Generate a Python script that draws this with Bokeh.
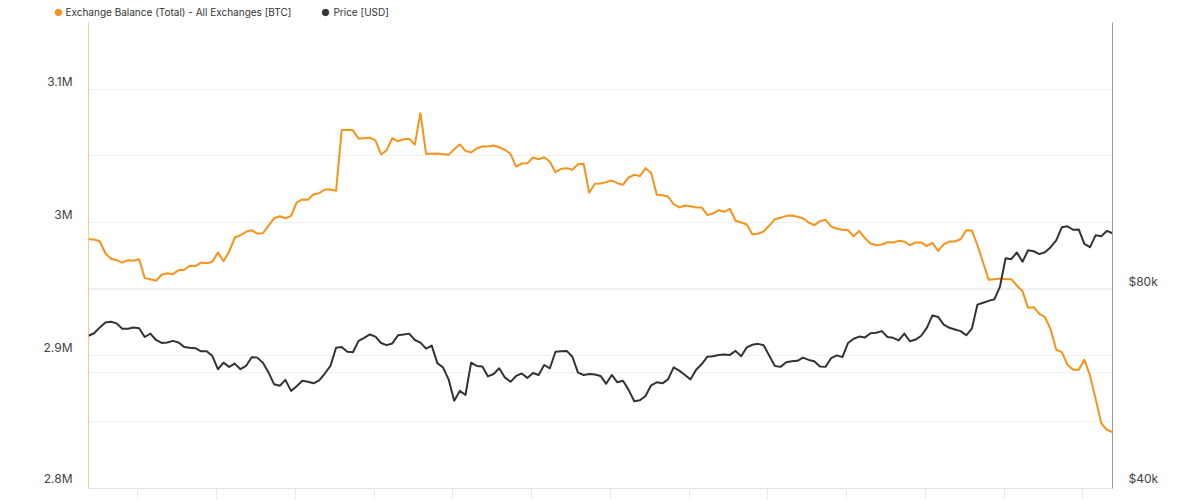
import pandas as pd
from bokeh.plotting import figure
from bokeh.layouts import column
from bokeh.models import (Range1d, LogScale, LogAxis, FixedTicker, Grid, Legend,
                          LegendItem, CustomJSTickFormatter)
from bokeh.embed import file_html
from bokeh.resources import INLINE

# ---------------- data ----------------
start_date = "2024-06-01"
n_days = 183

# Exchange balance, thousand BTC
balance_k = [
    2987.2, 2987.0, 2985.7, 2976.7, 2972.5, 2971.5, 2969.7, 2971.5, 2971.0, 2972.2,
    2958.0, 2957.2, 2956.0, 2960.5, 2961.7, 2961.0, 2964.0, 2964.3, 2967.3, 2967.0,
    2969.7, 2969.2, 2970.3, 2977.3, 2970.7, 2978.0, 2988.5, 2990.2, 2992.8, 2994.0,
    2991.5, 2991.7, 2997.5, 3003.0, 3004.5, 3003.0, 3004.8, 3014.8, 3017.1, 3016.8,
    3021.0, 3021.8, 3024.6, 3024.6, 3023.6, 3069.1, 3069.4, 3069.1, 3062.6, 3063.1,
    3063.6, 3061.4, 3050.9, 3054.1, 3063.1, 3060.8, 3062.3, 3062.6, 3058.4, 3081.9,
    3051.4, 3051.4, 3051.6, 3051.1, 3050.6, 3054.8, 3058.4, 3053.6, 3052.4, 3055.4,
    3056.9, 3056.9, 3057.6, 3056.3, 3054.4, 3051.4, 3041.8, 3044.1, 3044.3, 3048.6,
    3047.3, 3048.8, 3045.4, 3037.6, 3040.1, 3040.6, 3039.4, 3043.6, 3043.9, 3022.1,
    3028.9, 3029.1, 3030.1, 3031.3, 3029.3, 3028.1, 3033.6, 3035.6, 3034.6, 3040.6,
    3037.1, 3020.6, 3020.3, 3019.3, 3013.5, 3011.1, 3012.6, 3012.0, 3011.1, 3011.1,
    3005.3, 3006.5, 3009.0, 3007.8, 3010.1, 3001.1, 2999.8, 2998.3, 2991.0, 2991.3,
    2993.0, 2997.5, 3002.3, 3003.3, 3004.8, 3005.0, 3004.1, 3003.0, 2999.8, 2997.8,
    3000.8, 3001.8, 2996.8, 2995.1, 2994.3, 2994.0, 2989.5, 2993.4, 2988.0, 2984.0,
    2982.7, 2983.3, 2985.0, 2984.8, 2986.0, 2985.5, 2982.7, 2984.8, 2984.8, 2982.0,
    2984.5, 2978.5, 2983.3, 2985.5, 2985.5, 2987.2, 2994.0, 2993.8, 2982.7, 2969.7,
    2956.7, 2957.2, 2957.7, 2957.2, 2957.2, 2952.5, 2948.2, 2935.7, 2936.2, 2931.2,
    2928.7, 2919.6, 2904.2, 2902.4, 2892.9, 2889.2, 2889.2, 2896.7, 2884.9, 2867.4,
    2849.0, 2844.1, 2842.3,
]

# Price, thousand USD
price_k = [
    68.1, 68.7, 70.1, 71.3, 71.5, 71.1, 69.8, 69.8, 70.1, 69.9,
    67.8, 68.6, 67.1, 66.4, 66.5, 66.9, 66.5, 65.5, 65.3, 65.2,
    64.5, 64.5, 63.5, 60.6, 62.0, 61.1, 61.8, 60.6, 61.3, 63.2,
    63.1, 62.0, 59.9, 57.5, 57.2, 58.4, 56.2, 57.1, 58.2, 58.0,
    57.7, 58.3, 59.7, 61.3, 65.3, 65.5, 64.4, 64.3, 66.9, 67.6,
    68.4, 67.9, 66.4, 65.9, 66.3, 68.2, 68.4, 68.6, 67.1, 66.5,
    65.1, 65.8, 61.9, 61.0, 58.5, 54.3, 56.2, 55.4, 62.0, 61.3,
    61.2, 59.1, 59.6, 60.8, 58.9, 58.0, 59.2, 59.7, 58.8, 59.8,
    59.4, 61.5, 60.8, 64.4, 64.5, 64.6, 63.3, 59.9, 59.4, 59.6,
    59.5, 59.2, 57.6, 59.4, 57.9, 58.2, 56.4, 54.2, 54.4, 55.2,
    57.3, 57.9, 57.7, 58.5, 61.0, 60.3, 59.4, 58.5, 60.5, 61.7,
    63.3, 63.4, 63.7, 63.8, 63.7, 64.6, 63.4, 65.4, 66.0, 66.2,
    65.9, 63.5, 61.3, 61.1, 62.1, 62.3, 62.4, 63.1, 62.6, 62.3,
    61.2, 61.1, 63.0, 63.6, 63.2, 66.4, 67.4, 67.9, 67.7, 68.7,
    68.8, 69.2, 67.8, 67.6, 67.0, 68.6, 66.8, 67.2, 68.1, 70.0,
    73.1, 72.7, 70.8, 70.0, 69.6, 69.2, 68.2, 69.8, 75.9, 76.4,
    76.9, 77.3, 80.8, 89.2, 88.9, 91.0, 88.1, 91.7, 91.4, 90.5,
    91.1, 92.7, 94.9, 99.4, 99.7, 98.5, 98.6, 93.8, 92.7, 96.6,
    96.3, 98.1, 97.3,
]

series_names = ["Exchange Balance (Total) - All Exchanges [BTC]", "Price [USD]"]

left_ticks = [2800000, 2900000, 3000000, 3100000]
left_tick_labels = ["2.8M", "2.9M", "3M", "3.1M"]
left_grid = [2800000, 2850000, 2900000, 2950000, 3000000, 3050000, 3100000, 3150000]
right_ticks = [40000, 80000]
right_tick_labels = ["$40k", "$80k"]
right_grid = [40000, 60000, 80000]
x_tick_start = "2024-06-09 18:00"
x_tick_count = 13

# ---------------- derived ----------------
dates = pd.date_range(start_date, periods=n_days, freq="D")
balance = [v * 1000 for v in balance_k]
price = [v * 1000 for v in price_k]
x_ticks = [float(t.value // 10**6) for t in pd.date_range(x_tick_start, periods=x_tick_count, freq="14D")]
NAN = float("nan")

ORANGE = "#F7931A"
DARK = "#333333"
FONT = "Inter"

# ---------------- legend strip ----------------
lf = figure(width=1200, height=22, output_backend="svg", toolbar_location=None,
            x_range=Range1d(0, 1), y_range=Range1d(0, 1),
            x_axis_location=None, y_axis_location=None,
            min_border_left=0, min_border_right=0, min_border_top=0, min_border_bottom=0)
lf.frame_align = False
lf.outline_line_color = None
lf.xgrid.visible = False
lf.ygrid.visible = False
lf.background_fill_color = "white"
lf.border_fill_color = "white"
d1 = lf.scatter(x=[NAN], y=[NAN], marker="circle", fill_color=ORANGE, line_color=ORANGE)
d2 = lf.scatter(x=[NAN], y=[NAN], marker="circle", fill_color=DARK, line_color=DARK)
legend = Legend(items=[LegendItem(label=series_names[0], renderers=[d1]),
                       LegendItem(label=series_names[1], renderers=[d2])],
                orientation="horizontal", location=(49.5, 1.7),
                glyph_width=16, glyph_height=16, label_height=16,
                label_standoff=0, spacing=26, padding=0, margin=0,
                border_line_color=None, background_fill_alpha=0,
                label_text_font=FONT, label_text_font_size="10px",
                label_text_color="#333333")
lf.add_layout(legend)

# ---------------- main chart ----------------
p = figure(width=1200, height=478, x_axis_type="datetime",
           output_backend="svg", toolbar_location=None,
           x_range=Range1d(dates[0].to_pydatetime(), dates[-1].to_pydatetime()),
           y_range=Range1d(2800000, 3150000),
           min_border_left=88, min_border_right=88,
           min_border_top=0, min_border_bottom=12)
p.frame_align = False
p.extra_y_ranges = {"price": Range1d(40000, 202750)}
p.extra_y_scales = {"price": LogScale()}
p.outline_line_color = None
p.background_fill_color = "white"
p.border_fill_color = "white"

# grids
p.xgrid.visible = False
p.ygrid[0].ticker = FixedTicker(ticks=left_grid)
p.ygrid[0].grid_line_color = "#f0f0f0"
p.ygrid[0].grid_line_width = 1
rgrid = Grid(dimension=1, ticker=FixedTicker(ticks=right_grid), y_range_name="price",
             grid_line_color="#f0f0f0", grid_line_width=1)
p.add_layout(rgrid)

# bottom axis (ticks only, no labels)
xa = p.xaxis[0]
xa.ticker = FixedTicker(ticks=x_ticks)
xa.formatter = CustomJSTickFormatter(code="return ''")
xa.major_label_standoff = 0
xa.major_tick_in = 0
xa.major_tick_out = 10
xa.minor_tick_line_color = None
xa.axis_line_color = "#e3e3e3"
xa.major_tick_line_color = "#e8e8e8"

# labels sit just above their gridline: a blank second line lifts them
lift = "\n"

# left axis
ya = p.yaxis[0]
ya.ticker = FixedTicker(ticks=left_ticks)
ya.major_label_overrides = {t: s + lift for t, s in zip(left_ticks, left_tick_labels)}
ya.major_tick_in = 0
ya.major_tick_out = 0
ya.minor_tick_line_color = None
ya.major_label_standoff = 16
ya.axis_line_color = ORANGE
ya.axis_line_alpha = 0.5
ya.major_label_text_font = FONT
ya.major_label_text_font_size = "12px"
ya.major_label_text_line_height = 1.0
ya.major_label_text_color = "#444444"

# right axis (log, price)
ra = LogAxis(y_range_name="price", ticker=FixedTicker(ticks=right_ticks),
             major_label_overrides={t: s + lift for t, s in zip(right_ticks, right_tick_labels)})
ra.major_tick_in = 0
ra.major_tick_out = 0
ra.minor_tick_line_color = None
ra.major_label_standoff = 16
ra.axis_line_color = "#9a9a9a"
ra.major_label_text_font = FONT
ra.major_label_text_font_size = "12px"
ra.major_label_text_line_height = 1.0
ra.major_label_text_color = "#444444"
p.add_layout(ra, "right")

# lines
p.line(dates, balance, line_color=ORANGE, line_width=2, line_join="round")
p.line(dates, price, line_color=DARK, line_width=2, line_join="round", y_range_name="price")

open("out.html", "w").write(file_html(column(lf, p, spacing=0), INLINE))
